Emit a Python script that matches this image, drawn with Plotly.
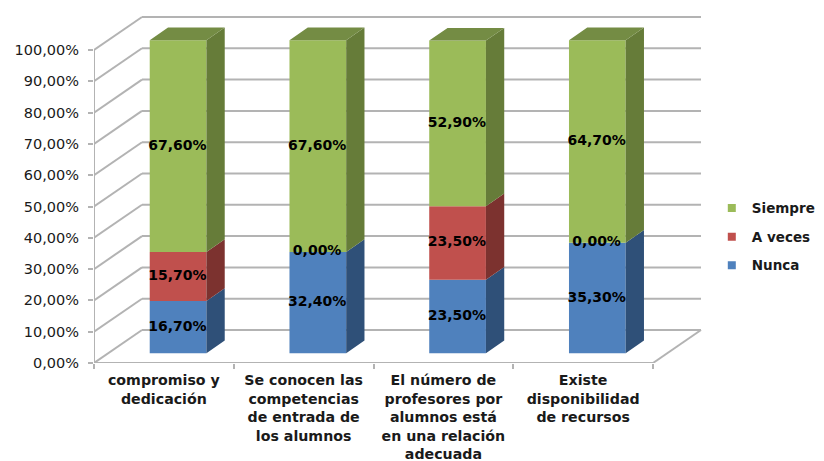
import plotly.graph_objects as go

categories = ["compromiso y<br>dedicación",
              "Se conocen las<br>competencias<br>de entrada de<br>los alumnos",
              "El número de<br>profesores por<br>alumnos está<br>en una relación<br>adecuada",
              "Existe<br>disponibilidad<br>de recursos"]
nunca = [16.7, 32.4, 23.5, 35.3]
a_veces = [15.7, 0.0, 23.5, 0.0]
siempre = [67.6, 67.6, 52.9, 64.7]
y_ticks = [0, 10, 20, 30, 40, 50, 60, 70, 80, 90, 100]

FONT = "DejaVu Sans"
GRID = "#b3b3b3"
W, H = 816, 453                # page adds an 8 px body margin
L, R, T, B = 86, 694, 8, 355
UNIT_X = 139.75                # px per category
UNIT_Y = 3.13                  # px per percent
X_RANGE = [-0.5, -0.5 + (R - L) / UNIT_X]
Y_RANGE = [0, (B - T) / UNIT_Y]
WALL_DX, WALL_DY = 48 / UNIT_X, 33 / UNIT_Y
SHIFT_X, SHIFT_Y = 14.2 / UNIT_X, 9.7 / UNIT_Y
BAR_W = 56.7 / UNIT_X
DEPTH_X, DEPTH_Y = 18.3 / UNIT_X, 12.7 / UNIT_Y

series = [("Nunca", nunca, "#4F81BD", "#2F5078"),
          ("A veces", a_veces, "#C0504D", "#7C322F"),
          ("Siempre", siempre, "#9BBB59", "#667C39")]
TOP_COLOR = "#748C44"

fig = go.Figure()
xs = [i + SHIFT_X for i in range(len(categories))]
bases = [SHIFT_Y] * len(categories)

# front faces, side faces
for name, vals, color, dark in series:
    fig.add_trace(go.Bar(x=xs, y=vals, base=list(bases), width=BAR_W, name=name,
                         marker=dict(color=color, line_width=0), showlegend=False,
                         hoverinfo="skip"))
    sx, sy = [], []
    for x, b, v in zip(xs, bases, vals):
        if v <= 0:
            continue
        r = x + BAR_W / 2
        sx += [r, r + DEPTH_X, r + DEPTH_X, r, r, None]
        sy += [b, b + DEPTH_Y, b + v + DEPTH_Y, b + v, b, None]
    fig.add_trace(go.Scatter(x=sx, y=sy, mode="lines", fill="toself", fillcolor=dark,
                             line=dict(width=0, color=dark), showlegend=False,
                             hoverinfo="skip"))
    bases = [b + v for b, v in zip(bases, vals)]

# top faces
tx, ty = [], []
for x, b in zip(xs, bases):
    l, r = x - BAR_W / 2, x + BAR_W / 2
    tx += [l, l + DEPTH_X, r + DEPTH_X, r, l, None]
    ty += [b, b + DEPTH_Y, b + DEPTH_Y, b, b, None]
fig.add_trace(go.Scatter(x=tx, y=ty, mode="lines", fill="toself", fillcolor=TOP_COLOR,
                         line=dict(width=0, color=TOP_COLOR), showlegend=False,
                         hoverinfo="skip"))

# data labels
bases = [SHIFT_Y] * len(categories)
for name, vals, color, dark in series:
    fig.add_trace(go.Scatter(
        x=[x - 0.005 for x in xs], y=[b + v / 2 for b, v in zip(bases, vals)],
        mode="text", text=[f"{v:.2f}%".replace(".", ",") for v in vals],
        textposition="middle center",
        textfont=dict(family=FONT, size=14, color="#000000", weight="bold"),
        showlegend=False, hoverinfo="skip"))
    bases = [b + v for b, v in zip(bases, vals)]

# legend entries (top to bottom)
for name, vals, color, dark in reversed(series):
    fig.add_trace(go.Scatter(x=[None], y=[None], mode="markers", name=name,
                             legendgroup=name,
                             marker=dict(symbol="square", size=8, color=color)))

# walls and floor
shapes = []
line = dict(color=GRID, width=2)
for t in y_ticks:
    shapes.append(dict(type="line", xref="x", yref="y", layer="below",
                       x0=-0.5, y0=t, x1=-0.5 + WALL_DX, y1=t + WALL_DY, line=line))
    shapes.append(dict(type="line", xref="x", yref="y", layer="below",
                       x0=-0.5 + WALL_DX, y0=t + WALL_DY,
                       x1=3.5 + WALL_DX, y1=t + WALL_DY, line=line))
shapes.append(dict(type="line", xref="x", yref="y", layer="below",
                   x0=3.5, y0=0, x1=3.5 + WALL_DX, y1=WALL_DY, line=line))
shapes.append(dict(type="line", xref="x", yref="y", layer="below",
                   x0=-0.5, y0=0, x1=3.5, y1=0, line=line))
shapes.append(dict(type="line", xref="x", yref="y", layer="below",
                   x0=-0.5, y0=0, x1=-0.5, y1=100, line=line))

fig.update_layout(
    width=W, height=H, barmode="overlay", plot_bgcolor="white", paper_bgcolor="white",
    margin=dict(l=L, r=W - R, t=T, b=H - B, autoexpand=False),
    shapes=shapes, font=dict(family=FONT, color="#1a1a1a"),
    legend=dict(xref="container", yref="container", x=0.8625, xanchor="left", y=0.592,
                yanchor="top", traceorder="grouped", tracegroupgap=8,
                bgcolor="rgba(0,0,0,0)", borderwidth=0,
                font=dict(family=FONT, size=13.5, color="#1a1a1a", weight="bold")),
)
fig.update_xaxes(range=X_RANGE, tickmode="array", tickvals=list(range(len(categories))),
                 ticktext=categories, tickangle=0, ticks="", showgrid=False, zeroline=False,
                 showline=False, ticklabelstandoff=7,
                 tickfont=dict(family=FONT, size=14.2, color="#1a1a1a", weight="bold"),
                 minor=dict(tickmode="array", tickvals=[-0.5, 0.5, 1.5, 2.5, 3.5], ticks="outside",
                            ticklen=5, tickwidth=2, tickcolor=GRID, showgrid=False))
fig.update_yaxes(range=Y_RANGE, tickmode="array", tickvals=y_ticks,
                 ticktext=[f"{t:.2f}%".replace(".", ",") for t in y_ticks],
                 ticks="outside", ticklen=5, tickwidth=2, tickcolor=GRID, showgrid=False,
                 zeroline=False, showline=False, ticklabelstandoff=6,
                 tickfont=dict(family=FONT, size=14.5, color="#1a1a1a"))

fig.write_html("out.html")
